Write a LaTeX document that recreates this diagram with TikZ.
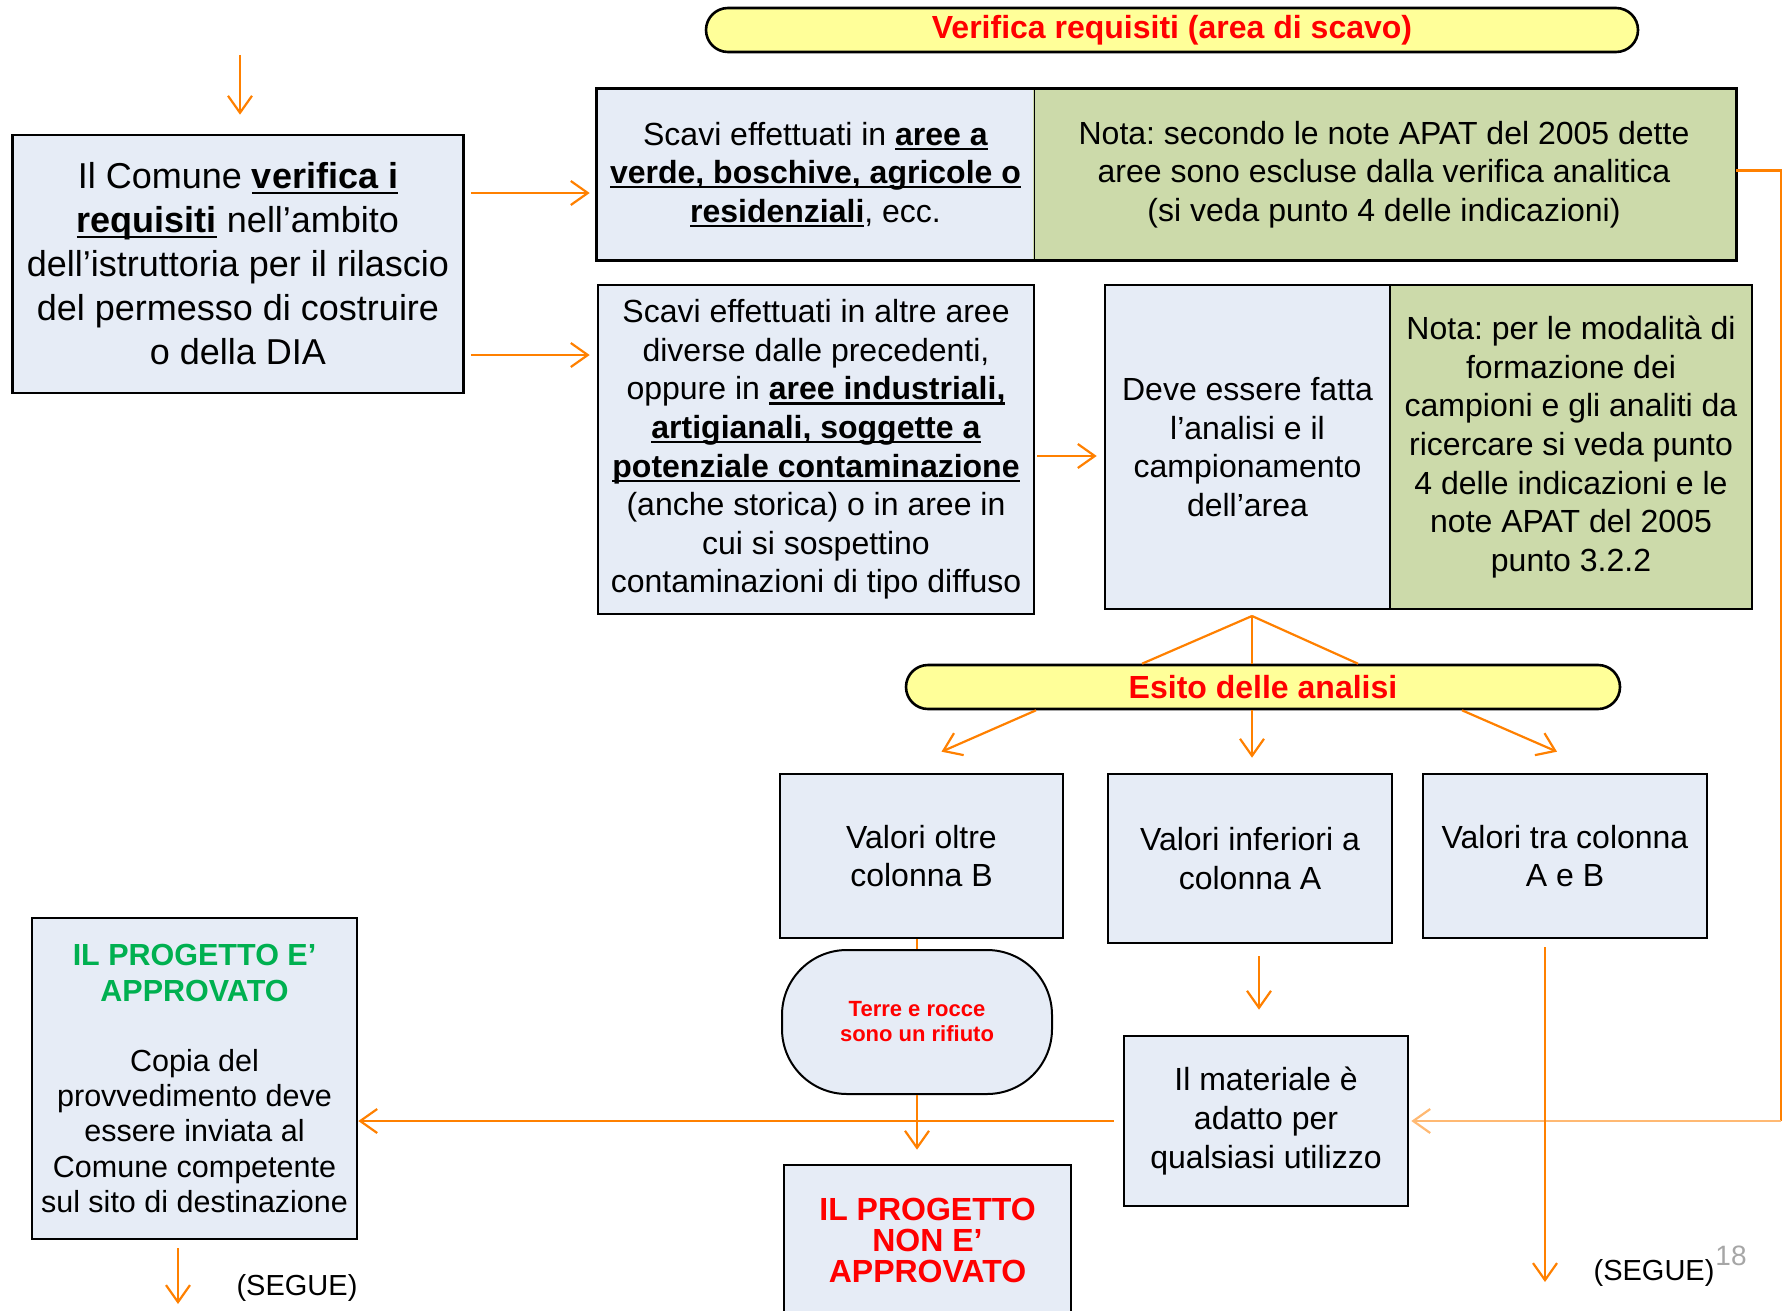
\documentclass[tikz,border=0pt]{standalone}
\usepackage{fontspec}
\setmainfont{Liberation Sans}
\usetikzlibrary{arrows.meta,calc}
\frenchspacing
\definecolor{boxblue}{HTML}{E6ECF6}
\definecolor{notegreen}{HTML}{CCDAAA}
\definecolor{pillyellow}{HTML}{FFFF99}
\definecolor{arrorange}{HTML}{FF8000}
\definecolor{titlegreen}{HTML}{00B050}
\definecolor{titlered}{HTML}{FF0000}
\definecolor{pagegray}{HTML}{A6A6A6}
\newcommand{\myul}[1]{\leavevmode\setbox0=\hbox{#1}\rlap{\rule[-0.15em]{\wd0}{0.07em}}\box0\relax}
\newcommand{\fsA}{\fontsize{36}{44}\selectfont}
\newcommand{\fsB}{\fontsize{32}{38.6}\selectfont}
\newcommand{\fsC}{\fontsize{30.5}{35.2}\selectfont}
\newcommand{\fsT}{\fontsize{22}{25}\selectfont}
\newcommand{\fsN}{\fontsize{32}{31}\selectfont}
\newcommand{\fsS}{\fontsize{29}{34}\selectfont}
\tikzset{
  box/.style={draw=black, line width=2.6pt, fill=boxblue, align=center, inner sep=0pt, font=\fsB},
  notebox/.style={box, fill=notegreen},
  pill/.style={draw=black, line width=2.6pt, fill=pillyellow, rounded corners=22pt, font=\bfseries\fsB, text=titlered, inner sep=0pt},
  arr/.style={draw=arrorange, line width=2.2pt, -{Straight Barb[length=17pt,width=24pt]}},
  link/.style={draw=arrorange, line width=2.2pt},
}
\begin{document}
\begin{tikzpicture}[x=1pt,y=-1pt]
\useasboundingbox (0,0) rectangle (1782,1311);
\clip (0,0) rectangle (1782,1311);

% title pills
\node[pill, minimum width=932pt, minimum height=44pt] (verifica) at (1172,30) {Verifica requisiti (area di scavo)};
\node[pill, minimum width=714pt, minimum height=44pt] (esito) at (1263,687) {Esito delle analisi};

% main boxes
\node[box, minimum width=451pt, minimum height=258pt, font=\fsA] (comune) at (238,264)
  {Il Comune \myul{\textbf{verifica i}}\\ \myul{\textbf{requisiti}} nell’ambito\\ dell’istruttoria per il rilascio\\ del permesso di costruire\\ o della DIA};

\node[box, draw=none, minimum width=435pt, minimum height=169pt] (scavi1) at (815.5,174.5)
  {Scavi effettuati in \myul{\textbf{aree a}}\\ \myul{\textbf{verde, boschive, agricole o}}\\ \myul{\textbf{residenziali}}, ecc.};
\node[notebox, draw=none, minimum width=702pt, minimum height=169pt] (nota1) at (1384,174.5)
  {Nota: secondo le note APAT del 2005 dette\\ aree sono escluse dalla verifica analitica\\ (si veda punto 4 delle indicazioni)};
\draw[line width=2.6pt] (scavi1.north west) rectangle (nota1.south east);
\draw[line width=1.2pt] (scavi1.north east) -- (scavi1.south east);

\node[box, minimum width=436pt, minimum height=329pt] (scavi2) at (816,449.5)
  {Scavi effettuati in altre aree\\ diverse dalle precedenti,\\ oppure in \myul{\textbf{aree industriali,}}\\ \myul{\textbf{artigianali, soggette a}}\\ \myul{\textbf{potenziale contaminazione}}\\ (anche storica) o in aree in\\ cui si sospettino\\ contaminazioni di tipo diffuso};

\node[box, minimum width=285pt, minimum height=324pt] (deve) at (1247.5,447)
  {Deve essere fatta\\ l’analisi e il\\ campionamento\\ dell’area};
\node[notebox, minimum width=362pt, minimum height=324pt] (nota2) at (1571,447)
  {Nota: per le modalità di\\ formazione dei\\ campioni e gli analiti da\\ ricercare si veda punto\\ 4 delle indicazioni e le\\ note APAT del 2005\\ punto 3.2.2};

\node[box, minimum width=283pt, minimum height=164pt] (valb) at (921.5,856) {Valori oltre\\ colonna B};
\node[box, minimum width=284pt, minimum height=169pt] (vala) at (1250,858.5) {Valori inferiori a\\ colonna A};
\node[box, minimum width=284pt, minimum height=164pt] (valab) at (1565,856) {Valori tra colonna\\ A e B};

\node[box, rounded corners=65pt, line width=2pt, minimum width=270pt, minimum height=144pt, font=\bfseries\fsT, text=titlered] (terre) at (917,1022)
  {Terre e rocce\\ sono un rifiuto};

\node[box, minimum width=284pt, minimum height=170pt] (materiale) at (1266,1121)
  {Il materiale è\\ adatto per\\ qualsiasi utilizzo};

\node[box, minimum width=325pt, minimum height=321pt, font=\fsC] (approv) at (194.5,1078.5)
  {\textcolor{titlegreen}{\textbf{IL PROGETTO E’}}\\ \textcolor{titlegreen}{\textbf{APPROVATO}}\\[35.2pt] Copia del\\ provvedimento deve\\ essere inviata al\\ Comune competente\\ sul sito di destinazione};

\node[box, minimum width=287pt, minimum height=150pt, font=\bfseries\fsN, text=titlered] (nonapp) at (927.5,1240)
  {IL PROGETTO\\ NON E’\\ APPROVATO};

% free labels
\node[font=\fsS] (segueL) at (297,1288) {(SEGUE)};
\node[font=\fsS] (segueR) at (1654,1273) {(SEGUE)};
\node[font=\fontsize{28}{28}\selectfont, text=pagegray] (pnum) at (1731,1256) {18};

% connectors
\coordinate (topstart) at (240,55);
\draw[arr, shorten >=19pt] (topstart) -- (topstart |- comune.north);

\draw[arr, shorten <=6pt, shorten >=7pt] (comune.east |- 0,193) -- (scavi1.west |- 0,193);
\draw[arr, shorten <=6pt, shorten >=7pt] (comune.east |- 0,355) -- (scavi2.west |- 0,355);

\draw[link] ([yshift=4pt]nota1.east) -- ++(45,0) coordinate (rc) -- (rc |- materiale.east);
\draw[arr, draw=arrorange!55, shorten >=2pt] (rc |- materiale.east) -- (materiale.east);

\draw[arr, shorten <=2pt, shorten >=7pt] (scavi2.east |- 0,456) -- (deve.west |- 0,456);

\coordinate (apex) at (1252,616);
\draw[link] (apex) -- ([xshift=-121pt]esito.north);
\draw[link] (apex) -- ([xshift=-11pt]esito.north);
\draw[link] (apex) -- ([xshift=95pt]esito.north);

\draw[arr] ([xshift=-227pt]esito.south) -- ([xshift=20pt,yshift=21pt]valb.north);
\draw[arr] ([xshift=-11pt]esito.south) -- ([xshift=2pt,yshift=15pt]vala.north);
\draw[arr] ([xshift=199pt]esito.south) -- ([xshift=-8pt,yshift=21pt]valab.north);

\draw[link] (terre.north) -- (terre.north |- valb.south);
\draw[arr, shorten >=14pt] (terre.south) -- (terre.south |- nonapp.north);
\draw[arr, shorten <=12pt, shorten >=25pt] ([xshift=9pt]vala.south) -- ([xshift=9pt]vala.south |- materiale.north);
\draw[arr, shorten <=9pt] (materiale.west) -- (materiale.west -| approv.east);

\coordinate (segR) at (1545,1282);
\draw[arr, shorten <=8pt] (valab.south -| segR) -- (segR);
\coordinate (segL) at (178,1304);
\draw[arr, shorten <=8pt] (approv.south -| segL) -- (segL);
\end{tikzpicture}
\end{document}
